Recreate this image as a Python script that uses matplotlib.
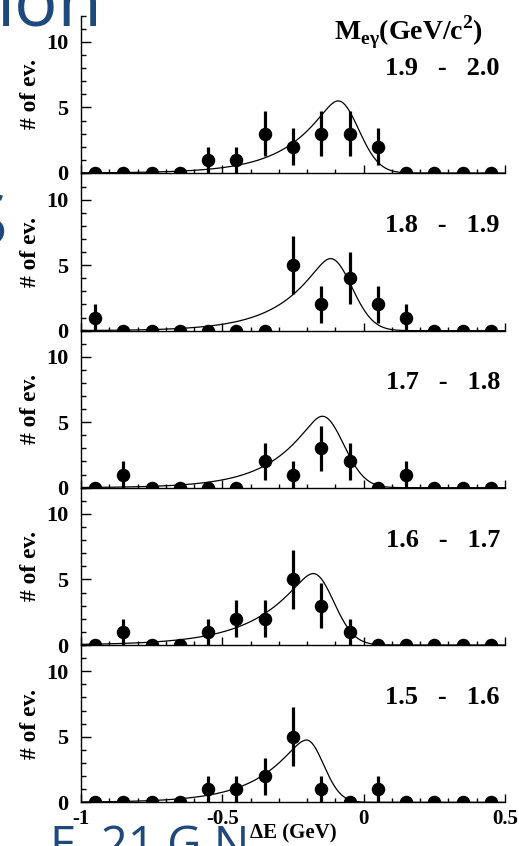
import numpy as np
import matplotlib
matplotlib.use("Agg")
import matplotlib.pyplot as plt
from matplotlib.ticker import MultipleLocator, FixedLocator

plt.rcParams["font.family"] = ["Liberation Serif", "DejaVu Serif"]
plt.rcParams["font.weight"] = "bold"
plt.rcParams["axes.unicode_minus"] = False

# bin centres in Delta E (GeV)
de_bins = [-0.95, -0.85, -0.75, -0.65, -0.55, -0.45, -0.35, -0.25,
           -0.15, -0.05, 0.05, 0.15, 0.25, 0.35, 0.45]

mass_labels = ["1.9   -   2.0", "1.8   -   1.9", "1.7   -   1.8",
               "1.6   -   1.7", "1.5   -   1.6"]

counts_19_20 = [0, 0, 0, 0, 1, 1, 3, 2, 3, 3, 2, 0, 0, 0, 0]
counts_18_19 = [1, 0, 0, 0, 0, 0, 0, 5, 2, 4, 2, 1, 0, 0, 0]
counts_17_18 = [0, 1, 0, 0, 0, 0, 2, 1, 3, 2, 0, 1, 0, 0, 0]
counts_16_17 = [0, 1, 0, 0, 1, 2, 2, 5, 3, 1, 0, 0, 0, 0, 0]
counts_15_16 = [0, 0, 0, 0, 1, 1, 2, 5, 1, 0, 1, 0, 0, 0, 0]
all_counts = [counts_19_20, counts_18_19, counts_17_18, counts_16_17, counts_15_16]

# signal shape: peak position, height, right width, left tail slope
peak_pos = [-0.090, -0.117, -0.146, -0.178, -0.202]
peak_height = [5.5, 5.5, 5.45, 5.45, 4.75]
sigma_right = [0.072, 0.075, 0.075, 0.072, 0.060]
tail_slope = [7.0, 7.0, 7.0, 6.0, 7.0]
core = 0.04


def signal(x, mu, amp, sr, k):
    d = x - mu
    left = k * (np.sqrt(d ** 2 + core ** 2) - core)
    right = d ** 2 / (2 * sr ** 2)
    return amp * np.exp(-np.where(d < 0, left, right))


fig = plt.figure(figsize=(5.19, 8.46), dpi=100)

W, H = 519.0, 846.0
left_px, right_px = 81.0, 505.0
zero_px = [173.0, 330.7, 487.7, 645.0, 802.3]
panel_h = 157.3

xs = np.linspace(-1, 0.5, 800)
blue = "#1F497D"

# slide text showing behind the figure
fig.text(102 / W, 1 - 26 / H, "ion", color=blue, fontsize=52, fontweight="normal",
         family="Open Sans", ha="right", va="baseline", zorder=-1)
fig.text(7 / W, 1 - 246 / H, "S", color=blue, fontsize=52, fontweight="normal",
         family="Open Sans", ha="right", va="baseline", zorder=-1)
fig.text(50 / W, -14 / H, "E  21 G N", color=blue, fontsize=34, fontweight="normal",
         family="Open Sans", ha="left", va="baseline", zorder=-1)

axes = []
for i, cnt in enumerate(all_counts):
    bottom = (H - zero_px[i]) / H
    ax = fig.add_axes([left_px / W, bottom, (right_px - left_px) / W, panel_h / H])
    ax.patch.set_alpha(0)
    cnt = np.array(cnt, dtype=float)
    err = np.sqrt(cnt)
    ax.errorbar(de_bins, cnt, yerr=err, fmt="o", color="black", ms=8.7,
                elinewidth=2.3, capsize=0, clip_on=True, zorder=3)
    ax.plot(xs, signal(xs, peak_pos[i], peak_height[i], sigma_right[i], tail_slope[i]),
            color="black", lw=0.9, zorder=2)
    ax.set_xlim(-1, 0.5)
    ax.set_ylim(0, 12)
    ax.spines["top"].set_visible(False)
    ax.spines["right"].set_visible(False)
    ax.spines["left"].set_linewidth(1.0)
    ax.spines["bottom"].set_linewidth(1.0)
    ax.yaxis.set_major_locator(FixedLocator([0, 5, 10]))
    ax.yaxis.set_minor_locator(MultipleLocator(1))
    ax.xaxis.set_major_locator(MultipleLocator(0.5))
    ax.xaxis.set_minor_locator(MultipleLocator(0.1))
    ax.tick_params(which="both", direction="in", width=1.0)
    ax.tick_params(axis="y", which="major", length=7, pad=9, labelsize=16)
    ax.tick_params(axis="y", which="minor", length=3.6)
    ax.tick_params(axis="x", which="major", length=6, pad=5, labelsize=15)
    ax.tick_params(axis="x", which="minor", length=3)
    ax.set_ylabel("# of ev.", fontsize=17, fontweight="bold", labelpad=4)
    ax.text(0.988, 1 - 59 / panel_h, mass_labels[i], transform=ax.transAxes,
            ha="right", va="baseline", fontsize=19, fontweight="bold")
    if i < len(all_counts) - 1:
        ax.tick_params(axis="x", labelbottom=False)
    else:
        ax.set_xticks([-1, -0.5, 0, 0.5])
        ax.set_xticklabels(["-1", "-0.5", "0", "0.5"])
    axes.append(ax)

axes[-1].set_xlabel("\u0394E (GeV)", fontsize=15, fontweight="bold", labelpad=-4)

fig.text(483 / W, 1 - 40 / H, r"M$_{\mathregular{e\gamma}}$(GeV/c$^{\mathregular{2}}$)",
         ha="right", va="baseline", fontsize=20, fontweight="bold")

fig.savefig("out.png", dpi=100)
